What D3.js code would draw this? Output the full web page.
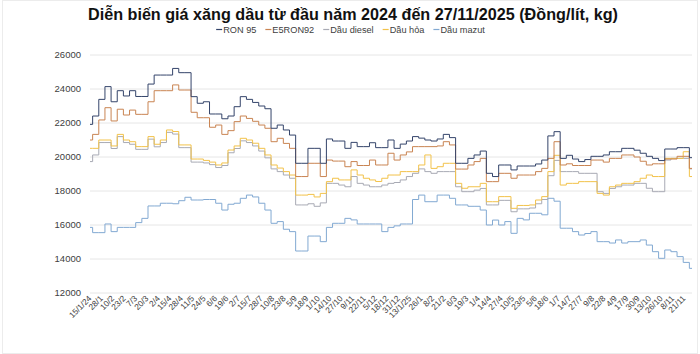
<!DOCTYPE html>
<html>
<head>
<meta charset="utf-8">
<script src="https://cdn.jsdelivr.net/npm/d3@7"></script>
<style>
  body { margin: 0; background: #fff; }
  svg text { font-family: "Liberation Sans Narrow", "Liberation Sans", Arial, sans-serif; }
</style>
</head>
<body>
<script>
const width = 700, height = 354;
const margin = { top: 55, right: 8, bottom: 61, left: 90 };

// weekly price-change dates (Thursdays), Jan 2024 -> 27/11/2025
const weekDates = d3.timeThursday.range(new Date(2024, 0, 11), new Date(2025, 10, 28));

const seriesNames = ["RON 95", "E5RON92", "Dầu diesel", "Dầu hỏa", "Dầu mazut"];
const seriesColors = ["#34446a", "#c98452", "#a8aab4", "#f2c24a", "#82a9d2"];

const ron95 = [
  21920, 22410, 23390, 24140, 23250, 23900, 23590, 23900, 23560, 23560,
  24290, 24820, 24820, 24820, 25210, 24960, 24960, 23550, 23160, 23250,
  22530, 22530, 22250, 22410, 22960, 23550, 23390, 23210, 23000, 22840,
  21690, 21880, 21590, 21290, 19630, 19630, 20510, 20510, 19630, 21060,
  20940, 20940, 20510, 20860, 20610, 20610, 20840, 20550, 20550, 21000,
  20510, 20760, 20940, 21200, 21110, 21000, 20940, 21060, 21330, 21140,
  19630, 19630, 19920, 20120, 20350, 19040, 18850, 19530, 19530, 19240,
  19470, 19470, 19470, 19590, 19820, 21240, 21490, 19920, 20100, 19880,
  19730, 19850, 20040, 20040, 20120, 20310, 20310, 20510, 20510, 20400,
  20220, 20040, 19920, 19790, 20470, 20470, 20550, 20550, 19960
];
const e5ron92 = [
  21000, 21330, 22180, 22900, 22120, 22810, 22470, 22760, 22510, 22510,
  23250, 23900, 23900, 23900, 24240, 23940, 23940, 22630, 22310, 22310,
  21750, 21880, 21330, 21550, 22080, 22410, 22270, 22100, 21880, 21690,
  20900, 21100, 20800, 20510, 18850, 18850, 19630, 19630, 18850, 19820,
  19760, 19760, 19430, 19730, 19500, 19500, 19820, 19530, 19530, 20220,
  19820, 20120, 20300, 20610, 20610, 20610, 20610, 20650, 20900, 20710,
  19290, 19290, 19530, 19730, 19920, 18550, 18550, 19040, 19040, 18750,
  18940, 18940, 18940, 19140, 19330, 19920, 20900, 19530, 19600, 19500,
  19500, 19500, 19820, 19820, 19700, 19920, 19920, 20120, 20120, 20000,
  19750, 19530, 19600, 19600, 19880, 19880, 20040, 20040, 19330
];
const diesel = [
  19730, 20120, 20850, 20850, 20500, 21200, 20850, 20750, 20450, 20450,
  21050, 20600, 20850, 21450, 21350, 20550, 20550, 19700, 19700, 19650,
  19550, 19380, 19500, 20250, 20500, 20950, 20850, 20650, 20350, 19950,
  19300, 19140, 18940, 18750, 17180, 17180, 17250, 17100, 17300, 18450,
  18450, 18350, 18250, 18850, 18450, 18350, 18250, 18250, 18350, 18450,
  18500, 18650, 18850, 19040, 19300, 19140, 19040, 19140, 19140, 19140,
  18250, 17960, 17960, 18050, 18150, 17180, 17180, 17450, 17450, 16780,
  16950, 16950, 17000, 17250, 17500, 18900, 19800, 19140, 19140, 19140,
  19040, 19040, 19040, 17960, 17860, 18150, 18250, 18350, 18350, 18450,
  18450, 18160, 17960, 17960, 19820, 19920, 19920, 19920, 19300
];
const dauHoa = [
  20510, 20510, 21000, 21000, 20650, 21330, 21000, 20900, 20610, 20610,
  21200, 20750, 21000, 21590, 21500, 20710, 20710, 19880, 19880, 19800,
  19700, 19530, 19650, 20410, 20650, 21100, 21000, 20810, 20510, 20120,
  19530, 19350, 19140, 18940, 17760, 17760, 17800, 17650, 17860, 18550,
  18750, 18650, 18650, 19240, 18940, 18750, 18650, 18560, 18750, 18940,
  18940, 19140, 19140, 19140, 19530, 20120, 19330, 19430, 19630, 19630,
  18450, 18160, 18250, 18250, 18450, 17370, 17370, 17670, 17670, 16980,
  17150, 17150, 17180, 17470, 17670, 19140, 20100, 18350, 18450, 18450,
  18550, 18550, 18550, 17860, 17760, 18250, 18350, 18450, 18450, 18550,
  18750, 18940, 18850, 18850, 19920, 19920, 19920, 20310, 18850
];
const mazut = [
  15860, 15550, 15550, 16060, 15610, 15860, 15860, 15860, 16140, 16390,
  17120, 17120, 17280, 17280, 17250, 17430, 17630, 17470, 17470, 17500,
  17500, 17280, 16880, 17220, 17280, 17570, 17760, 17650, 17280, 16880,
  16100, 16200, 15750, 15610, 14470, 14470, 15350, 15350, 15020, 15860,
  16100, 16100, 16390, 16300, 16060, 16060, 16060, 16060, 15610, 15860,
  15950, 16060, 16060, 17500, 17760, 17370, 17370, 17760, 17760, 17570,
  17180, 17180, 17100, 17100, 16880, 16000, 16290, 16000, 16200, 15510,
  16390, 16300, 16690, 16690, 16600, 17570, 17400, 15810, 15810, 15610,
  15410, 15500, 15610, 15020, 15020, 14940, 15120, 14940, 15020, 15020,
  15120, 14820, 14430, 14040, 14530, 14430, 14140, 13800, 13450
];
const seriesValues = [ron95, e5ron92, diesel, dauHoa, mazut];

const tickLabels = [
  "15/1/24", "28/1", "10/2", "23/2", "7/3", "20/3", "2/4", "15/4", "28/4", "11/5",
  "24/5", "6/6", "19/6", "2/7", "15/7", "28/7", "10/8", "23/8", "5/9", "18/9",
  "1/10", "14/10", "27/10", "9/11", "22/11", "5/12", "18/12", "31/12", "13/1/25", "26/1",
  "8/2", "21/2", "6/3", "19/3", "1/4", "14/4", "27/4", "10/5", "23/5", "5/6",
  "18/6", "1/7", "14/7", "27/7", "9/8", "22/8", "4/9", "17/9", "30/9", "13/10",
  "26/10", "8/11", "21/11"
];
const yTicks = [12000, 14000, 16000, 18000, 20000, 22000, 24000, 26000];

const axisStart = new Date(2024, 0, 15);
const axisEnd = new Date(2025, 10, 30);
const tickDates = tickLabels.map((d, i) => d3.timeDay.offset(axisStart, 13 * i));

const svg = d3
  .select("body")
  .append("svg")
  .attr("width", width)
  .attr("height", height);

svg.append("rect")
  .attr("x", 2.5).attr("y", 0.5)
  .attr("width", width - 5).attr("height", height - 1)
  .attr("fill", "#fff")
  .attr("stroke", "#ececec");

let x = d3.scaleTime()
  .domain([axisStart, axisEnd])
  .range([margin.left, width - margin.right]);

let y = d3.scaleLinear()
  .domain([12000, 26000])
  .range([height - margin.bottom, margin.top]);

// gridlines
svg.append("g")
  .selectAll("line")
  .data(yTicks)
  .enter()
  .append("line")
  .attr("x1", margin.left)
  .attr("x2", width - margin.right)
  .attr("y1", d => y(d))
  .attr("y2", d => y(d))
  .attr("stroke", "#e6e6e6")
  .attr("stroke-width", 1);

// y labels
svg.append("g")
  .selectAll("text")
  .data(yTicks)
  .enter()
  .append("text")
  .attr("x", 81)
  .attr("y", d => y(d))
  .attr("dy", "0.35em")
  .attr("text-anchor", "end")
  .attr("font-size", 9.5)
  .attr("fill", "#404040")
  .text(d => d);

// x labels (rotated)
svg.append("g")
  .selectAll("text")
  .data(tickDates)
  .enter()
  .append("text")
  .attr("transform", d => `translate(${x(d) + 2}, 299) rotate(-45)`)
  .attr("text-anchor", "end")
  .attr("font-size", 8.3)
  .attr("fill", "#404040")
  .text((d, i) => tickLabels[i]);

svg.append("clipPath")
  .attr("id", "plot")
  .append("rect")
  .attr("x", margin.left)
  .attr("y", 0)
  .attr("width", width - margin.right - margin.left)
  .attr("height", height);

let line = d3.line()
  .x(d => x(d[0]))
  .y(d => y(d[1]))
  .curve(d3.curveStepAfter);

// draw mazut first so dark lines sit on top
let order = [4, 2, 3, 1, 0];
svg.append("g")
  .attr("clip-path", "url(#plot)")
  .selectAll("path")
  .data(order)
  .enter()
  .append("path")
  .attr("fill", "none")
  .attr("stroke", i => seriesColors[i])
  .attr("stroke-width", 1)
  .attr("d", i => {
    let pts = weekDates.map((d, j) => [d, seriesValues[i][j]]);
    pts.push([axisEnd, seriesValues[i][seriesValues[i].length - 1]]);
    return line(pts);
  });

// title
svg.append("text")
  .attr("x", 353)
  .attr("y", 20)
  .attr("text-anchor", "middle")
  .attr("font-size", 16)
  .attr("font-weight", "bold")
  .attr("fill", "#111")
  .attr("textLength", 530)
  .attr("lengthAdjust", "spacingAndGlyphs")
  .text("Diễn biến giá xăng dầu từ đầu năm 2024 đến 27/11/2025 (Đồng/lít, kg)");

// legend
let legend = svg.append("g");
let items = legend.selectAll("g")
  .data(seriesNames)
  .enter()
  .append("g");
items.append("line")
  .attr("x1", 0).attr("x2", 6)
  .attr("y1", 0).attr("y2", 0)
  .attr("stroke", (d, i) => seriesColors[i])
  .attr("stroke-width", 1.2);
items.append("text")
  .attr("x", 7)
  .attr("dy", "0.35em")
  .attr("font-size", 9.2)
  .attr("fill", "#404040")
  .text(d => d);

let widths = [];
items.each(function() {
  widths.push(7 + d3.select(this).select("text").node().getComputedTextLength());
});
let gap = 9;
let total = d3.sum(widths) + gap * (widths.length - 1);
let cx = 350.5 - total / 2;
items.attr("transform", (d, i) => {
  let pos = cx + d3.sum(widths.slice(0, i)) + gap * i;
  return `translate(${pos}, 29.5)`;
});
</script>
</body>
</html>
